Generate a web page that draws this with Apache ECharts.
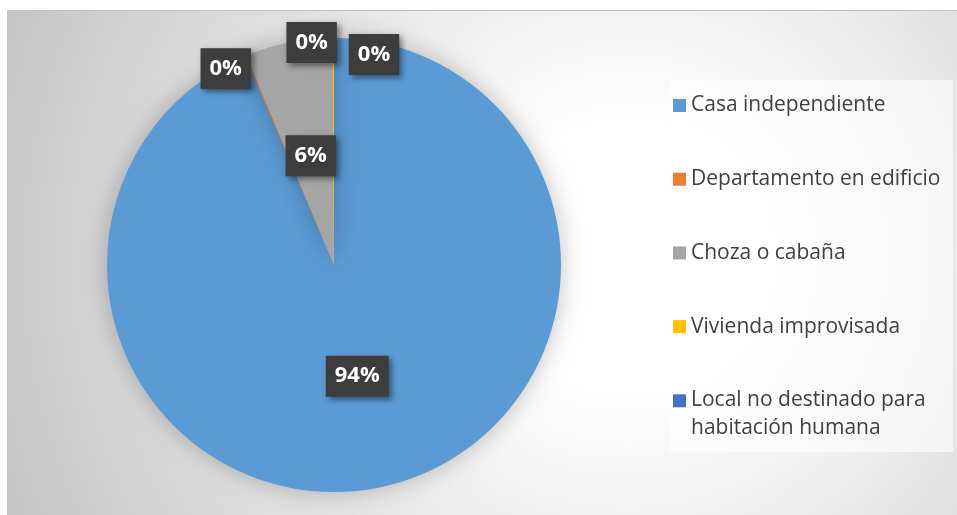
<!DOCTYPE html>
<html><head><meta charset="utf-8">
<script src="https://cdn.jsdelivr.net/npm/echarts@6/dist/echarts.min.js"></script>
<style>html,body{margin:0;padding:0;background:#fff}#c{width:957px;height:515px}</style>
</head><body><div id="c"></div>
<script>
// ---- data ----
const categories = ['Casa independiente', 'Departamento en edificio', 'Choza o cabaña', 'Vivienda improvisada', 'Local no destinado para habitación humana'];
const legendLines = [['Casa independiente'], ['Departamento en edificio'], ['Choza o cabaña'], ['Vivienda improvisada'], ['Local no destinado para', 'habitación humana']];
const values = [93.6, 0.1, 6.2, 0.1, 0];

// ---- styles ----
const colors = ['#5B9BD5', '#ED7D31', '#A5A5A5', '#FFC000', '#4472C4'];
const labelOffsets = [[0, -3], [-63, -89], [0, 5], [-22, -106], [40, -94]];

const chart = echarts.init(document.getElementById('c'), null, { renderer: 'canvas' });

const seriesData = categories.map((c, i) => ({ name: c, value: values[i], itemStyle: { color: colors[i] } }));

const legendFont = { color: '#404040', fontSize: 21, fontFamily: 'Open Sans' };

chart.setOption({
  animation: false,
  graphic: [
    {
      type: 'rect', z: -10, silent: true,
      shape: { x: 7.5, y: 10.5, width: 960, height: 520 },
      style: {
        fill: new echarts.graphic.RadialGradient(0.645, 0.475, 1.3, [
          { offset: 0, color: '#ffffff' },
          { offset: 0.2, color: '#ffffff' },
          { offset: 1, color: '#c4c4c4' }
        ]),
        stroke: '#c2c2c2', lineWidth: 1
      }
    },
    {
      type: 'rect', z: -5, silent: true,
      shape: { x: 670, y: 80, width: 283, height: 372 },
      style: { fill: 'rgba(255,255,255,0.6)' }
    }
  ],
  legend: {
    orient: 'vertical',
    left: 673, top: 95, padding: 0,
    itemWidth: 13, itemHeight: 13, itemGap: 52.7,
    icon: 'rect',
    data: categories,
    formatter: name => {
      const lines = legendLines[categories.indexOf(name)];
      return lines.length === 1 ? '{a|' + lines[0] + '}' : '{a|' + lines[0] + '}\n{b|' + lines[1] + '}';
    },
    textStyle: Object.assign({}, legendFont, {
      rich: {
        a: Object.assign({}, legendFont, { lineHeight: 28 }),
        b: Object.assign({}, legendFont, { lineHeight: 1, verticalAlign: 'top', padding: [3, 0, 0, 0] })
      }
    })
  },
  series: [{
    type: 'pie',
    center: [334, 265],
    radius: 227,
    startAngle: 90,
    clockwise: true,
    data: seriesData,
    avoidLabelOverlap: false,
    itemStyle: { shadowBlur: 25, shadowColor: 'rgba(0,0,0,0.25)' },
    label: {
      position: 'inside',
      formatter: p => Math.round(p.percent) + '%',
      color: '#ffffff', fontSize: 22, fontWeight: 'bold', fontFamily: 'Open Sans',
      backgroundColor: '#3d3d3d',
      padding: [10, 9, 9, 9],
      shadowColor: 'rgba(0,0,0,0.45)', shadowBlur: 6, shadowOffsetX: 3, shadowOffsetY: 3
    },
    labelLine: { show: false },
    labelLayout: p => ({ dx: labelOffsets[p.dataIndex][0], dy: labelOffsets[p.dataIndex][1] })
  }]
});
</script>
</body></html>
